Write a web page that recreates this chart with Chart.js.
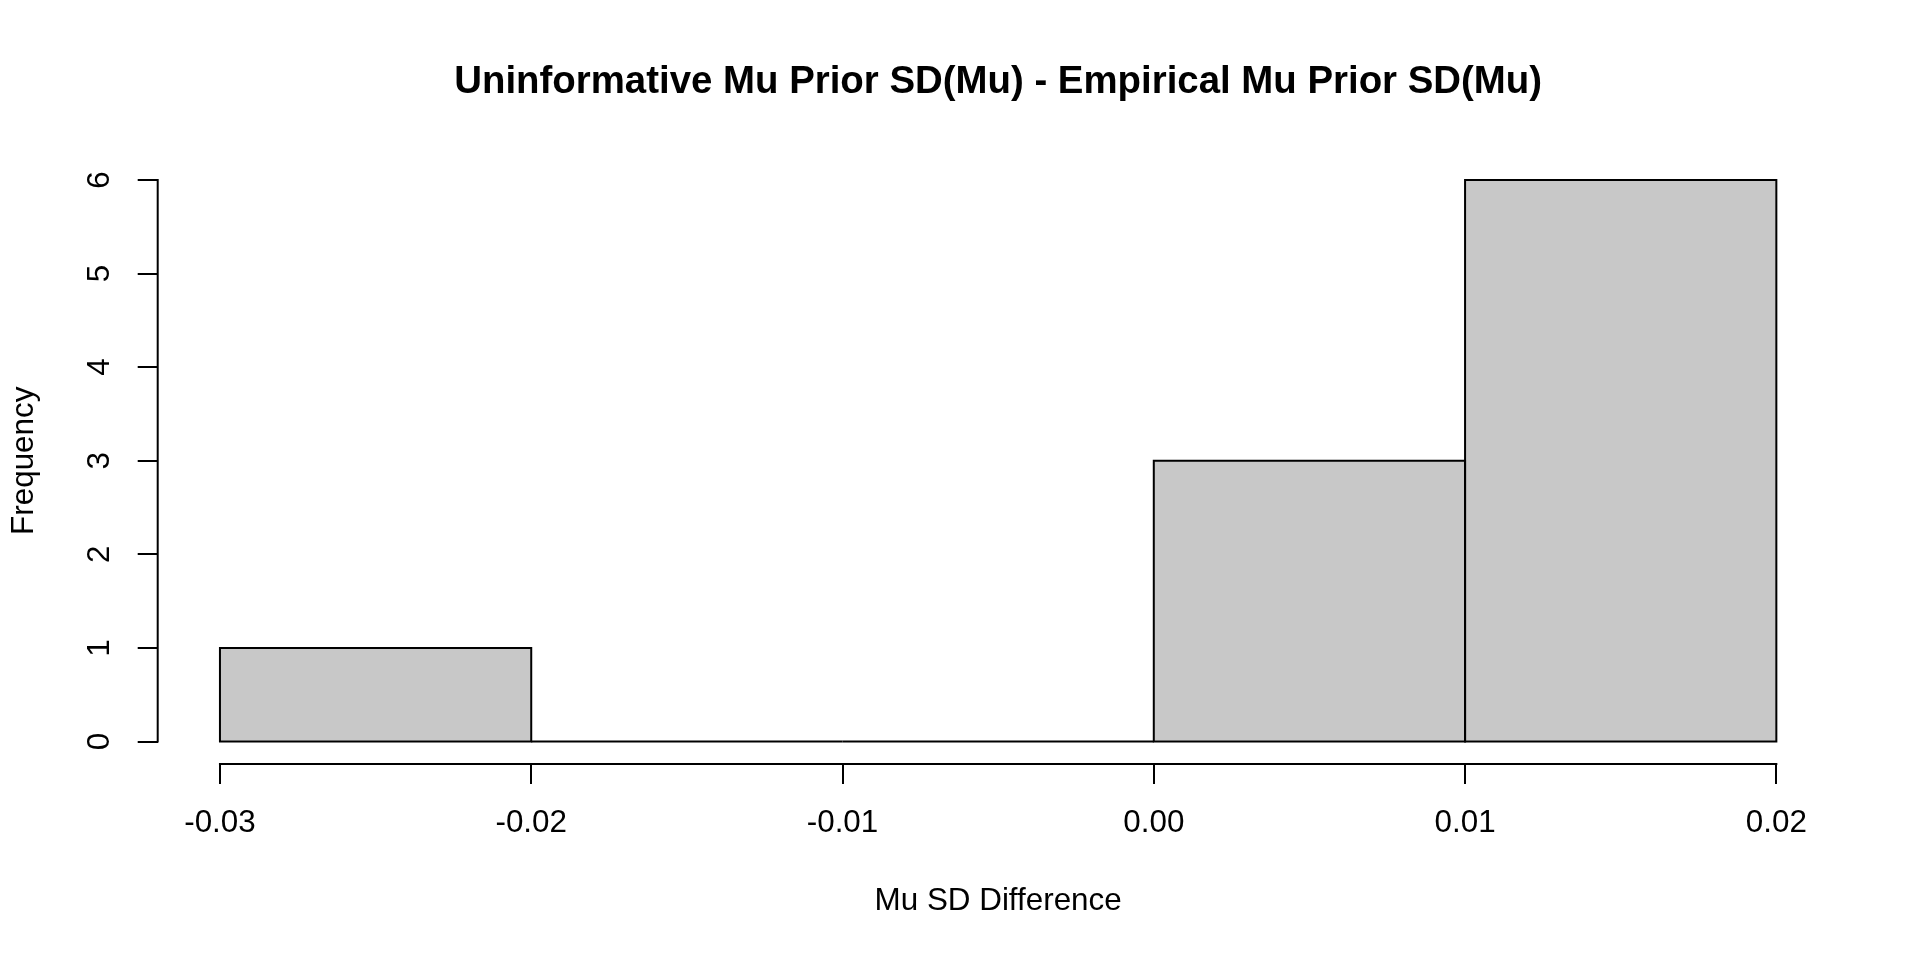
<!DOCTYPE html>
<html>
<head>
<meta charset="utf-8">
<script src="https://cdn.jsdelivr.net/npm/chart.js@4.4.0/dist/chart.umd.min.js"></script>
<style>
    html, body { margin: 0; padding: 0; background: #fff; }
    #wrap { width: 1920px; height: 960px; }
</style>
</head>
<body>
<div id="wrap"><canvas id="chart"></canvas></div>
<script>
// Histogram bins and counts
const binEdges = [-0.03, -0.02, -0.01, 0.00, 0.01, 0.02];
const binCounts = [1, 0, 0, 3, 6];

// Tick labels
const xTickValues = [-0.03, -0.02, -0.01, 0.00, 0.01, 0.02];
const yTickValues = [0, 1, 2, 3, 4, 5, 6];

const chartTitle = 'Uninformative Mu Prior SD(Mu) - Empirical Mu Prior SD(Mu)';
const xLabel = 'Mu SD Difference';
const yLabel = 'Frequency';

// R-style 4% range extension
const xSpan = xTickValues[xTickValues.length - 1] - xTickValues[0];
const ySpan = yTickValues[yTickValues.length - 1] - yTickValues[0];
const xMin = xTickValues[0] - 0.04 * xSpan;
const xMax = xTickValues[xTickValues.length - 1] + 0.04 * xSpan;
const yMin = yTickValues[0] - 0.04 * ySpan;
const yMax = yTickValues[yTickValues.length - 1] + 0.04 * ySpan;

Chart.defaults.font.family = '"Liberation Sans", Arial, sans-serif';
Chart.defaults.color = '#000';

// Outline every bin (zero-count bins show as a line on the baseline)
const histOutline = {
    id: 'histOutline',
    afterDatasetsDraw(chart) {
        const { ctx, scales: { x, y } } = chart;
        ctx.save();
        ctx.strokeStyle = '#000';
        ctx.lineWidth = 2;
        binCounts.forEach((count, i) => {
            const left = x.getPixelForValue(binEdges[i]);
            const right = x.getPixelForValue(binEdges[i + 1]);
            const top = y.getPixelForValue(count);
            const bottom = y.getPixelForValue(0);
            ctx.beginPath();
            ctx.rect(left, top, right - left, bottom - top);
            ctx.stroke();
        });
        ctx.restore();
    }
};

// Axis lines that only run between the first and last tick
const rAxes = {
    id: 'rAxes',
    afterDraw(chart) {
        const { ctx, chartArea, scales: { x, y } } = chart;
        ctx.save();
        ctx.strokeStyle = '#000';
        ctx.lineWidth = 2;
        ctx.lineCap = 'square';
        ctx.beginPath();
        ctx.moveTo(x.getPixelForValue(xTickValues[0]), chartArea.bottom);
        ctx.lineTo(x.getPixelForValue(xTickValues[xTickValues.length - 1]), chartArea.bottom);
        ctx.moveTo(chartArea.left, y.getPixelForValue(yTickValues[0]));
        ctx.lineTo(chartArea.left, y.getPixelForValue(yTickValues[yTickValues.length - 1]));
        ctx.stroke();
        ctx.restore();
    }
};

const tickGrid = {
    display: true,
    offset: false,
    drawOnChartArea: false,
    drawTicks: true,
    tickLength: 20,
    color: '#000',
    lineWidth: 2
};

const ctx = document.getElementById('chart').getContext('2d');

new Chart(ctx, {
    type: 'bar',
    data: {
        datasets: [{
            data: binCounts.map((c, i) => ({ x: (binEdges[i] + binEdges[i + 1]) / 2, y: c })),
            backgroundColor: '#c8c8c8',
            borderWidth: 0,
            barPercentage: 1,
            categoryPercentage: 1
        }]
    },
    options: {
        responsive: true,
        maintainAspectRatio: false,
        animation: false,
        layout: {
            padding: { left: 0, right: 81.4, top: 0, bottom: 0 }
        },
        plugins: {
            legend: { display: false },
            tooltip: { enabled: false },
            title: {
                display: true,
                text: chartTitle,
                color: '#000',
                fullSize: false,
                font: { size: 38.4, weight: 'bold' },
                padding: { top: 59.8, bottom: 51.6 }
            }
        },
        scales: {
            x: {
                type: 'linear',
                offset: false,
                min: xMin,
                max: xMax,
                afterBuildTicks: s => { s.ticks = xTickValues.map(v => ({ value: v })); },
                afterFit: s => { s.height = 196; },
                ticks: {
                    color: '#000',
                    font: { size: 31.4 },
                    padding: 21,
                    autoSkip: false,
                    minRotation: 0,
                    maxRotation: 0,
                    callback: v => v.toFixed(2)
                },
                grid: tickGrid,
                border: { display: false },
                title: {
                    display: true,
                    text: xLabel,
                    color: '#000',
                    font: { size: 31.4 },
                    padding: { top: 0, bottom: 39.5 }
                }
            },
            y: {
                type: 'linear',
                min: yMin,
                max: yMax,
                afterBuildTicks: s => { s.ticks = yTickValues.map(v => ({ value: v })); },
                afterFit: s => { s.width = 157.7; },
                ticks: {
                    color: '#000',
                    font: { size: 31.4 },
                    padding: 29,
                    minRotation: 90,
                    maxRotation: 90,
                    crossAlign: 'center',
                    callback: v => String(v)
                },
                grid: tickGrid,
                border: { display: false },
                title: {
                    display: true,
                    text: yLabel,
                    color: '#000',
                    font: { size: 31.4 },
                    padding: { top: 6, bottom: 0 }
                }
            }
        }
    },
    plugins: [histOutline, rAxes]
});
</script>
</body>
</html>
